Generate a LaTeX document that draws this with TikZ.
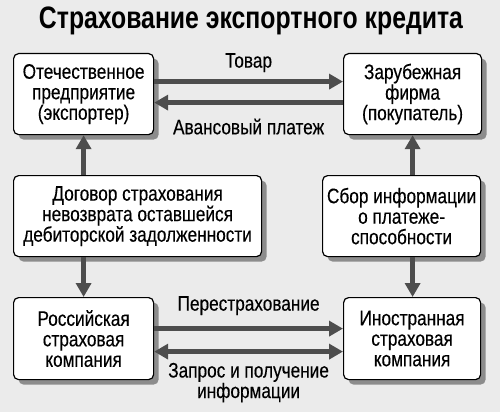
\documentclass[tikz,border=0pt]{standalone}
\usepackage{fontspec}
\setmainfont{Liberation Sans}[FakeStretch=0.82, FakeBold=0.3]
\newfontfamily\titlefont{Liberation Sans}[FakeStretch=0.8]
\usepackage{tikz}
\usetikzlibrary{arrows.meta, positioning, shadows}

\definecolor{bggray}{HTML}{EBEBEB}
\definecolor{arrowgray}{HTML}{4D4D4D}
\definecolor{shadowgray}{HTML}{8C8C8C}

\begin{document}
\begin{tikzpicture}[x=1pt, y=-1pt, >={Triangle[length=14pt, width=15pt]},
  every node/.style={font=\fontsize{21}{20.5}\selectfont},
  box/.style={draw=black, line width=1.2pt, rounded corners=5pt, fill=white, align=center,
    anchor=north west, inner sep=0pt,
    drop shadow={shadow xshift=5pt, shadow yshift=-5pt, fill=shadowgray, opacity=1}},
  arr/.style={draw=arrowgray, line width=4.5pt}]
\useasboundingbox[fill=bggray] (0,0) rectangle (500,412);

\node[font=\fontsize{31}{34}\titlefont\bfseries] (title) at (251,21) {Страхование экспортного кредита};

\node[box, minimum width=140pt, minimum height=81pt] (expo) at (13,53) {Отечественное\\предприятие\\(экспортер)};
\node[box, minimum width=138pt, minimum height=81pt] (buyer) at (343,53) {Зарубежная\\фирма\\(покупатель)};
\node[box, minimum width=248pt, minimum height=81pt] (contract) at (13,175) {Договор страхования\\невозврата оставшейся\\дебиторской задолженности};
\node[box, minimum width=158pt, minimum height=81pt] (info) at (322,175) {Сбор информации\\о платеже-\\способности};
\node[box, minimum width=140pt, minimum height=82pt] (rusins) at (13,297) {Российская\\страховая\\компания};
\node[box, minimum width=137pt, minimum height=82pt] (forins) at (343,297) {Иностранная\\страховая\\компания};

% exporter <-> buyer
\draw[arr, ->] ([yshift=12.5pt]expo.east) -- ([yshift=12.5pt]expo.east -| buyer.west)
  node[midway, yshift=19pt] (goods) {Товар};
\draw[arr, <-] ([yshift=-8.5pt]expo.east) -- ([yshift=-8.5pt]expo.east -| buyer.west)
  node[midway, yshift=-24pt] (advance) {Авансовый платеж};

% vertical links
\draw[arr, ->] (contract.north -| expo.south) -- (expo.south);
\draw[arr, ->] (contract.south -| expo.south) -- (rusins.north -| expo.south);
\draw[arr, ->] (info.north -| buyer.south) -- (buyer.south);
\draw[arr, ->] (info.south -| buyer.south) -- (forins.north -| buyer.south);

% insurers
\draw[arr, ->] ([yshift=10pt]rusins.east) -- ([yshift=10pt]rusins.east -| forins.west)
  node[midway, yshift=23pt] (reins) {Перестрахование};
\draw[arr, <->] ([yshift=-13pt]rusins.east) -- ([yshift=-13pt]rusins.east -| forins.west)
  node[midway, yshift=-31pt, align=center] (request) {Запрос и получение\\информации};
\end{tikzpicture}
\end{document}
